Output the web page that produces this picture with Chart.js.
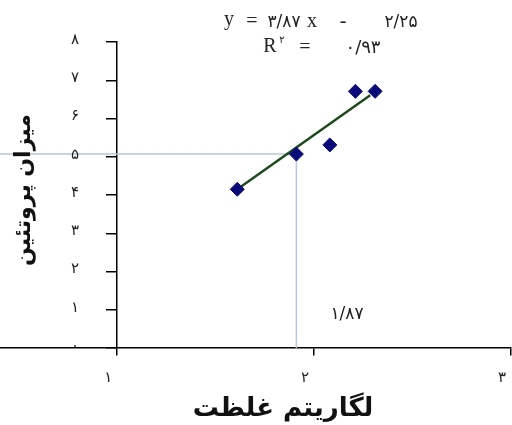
<!DOCTYPE html>
<html>
<head>
<meta charset="utf-8">
<script src="https://cdn.jsdelivr.net/npm/chart.js@4.4.1/dist/chart.umd.min.js"></script>
<style>
  html, body { margin:0; padding:0; background:#fff; }
  #wrap { width:512px; height:425px; }
</style>
</head>
<body>
<div id="wrap"><canvas id="c" width="512" height="425"></canvas></div>
<script>
// نقاط اندازه گیری (لگاریتم غلظت، میزان پروتئین)
const logConc = [1.61, 1.91, 2.08, 2.21, 2.31];
const protein = [4.15, 5.07, 5.31, 6.71, 6.71];

// خط روند
const trendX = [1.61, 2.285];
const trendY = [4.15, 6.61];

// خطوط راهنما (x = ۱/۸۷)
const guideX = [0.405, 1.91, 1.91];
const guideY = [5.07, 5.07, 0];

const xTicks = [1, 2, 3];
const yTicks = [0, 1, 2, 3, 4, 5, 6, 7, 8];
const faDigits = "۰۱۲۳۴۵۶۷۸۹";
const toFa = v => String(v).replace(/\d/g, d => faDigits[d]);

const zip = (xs, ys) => xs.map((x, i) => ({x: x, y: ys[i]}));

// متن ها: معادله، R2، عنوان محورها، برچسب های محورها
const textPlugin = {
    id: "texts",
    afterDraw(chart) {
        const ctx = chart.ctx;
        const xs = chart.scales.x, ys = chart.scales.y;
        ctx.save();
        ctx.fillStyle = "#222";
        ctx.textAlign = "center";
        ctx.textBaseline = "middle";

        // tick labels
        ctx.font = "15px 'DejaVu Sans'";
        yTicks.forEach(v => ctx.fillText(toFa(v), 75, ys.getPixelForValue(v) - 2));
        xTicks.forEach(v => ctx.fillText(toFa(v), Math.min(xs.getPixelForValue(v) - 9, 506), 378));

        // equation
        ctx.font = "20px 'Liberation Serif'";
        ctx.fillText("y", 229, 20);
        ctx.fillText("=", 252, 22);
        ctx.fillText("x", 312, 22);
        ctx.fillText("-", 343, 22);
        ctx.font = "17px 'DejaVu Sans'";
        ctx.letterSpacing = "2px";
        ctx.fillText("۳/۸۷", 284, 23);
        ctx.letterSpacing = "4px";
        ctx.fillText("۲/۲۵", 401, 23);

        // R2
        ctx.letterSpacing = "0px";
        ctx.font = "20px 'Liberation Serif'";
        ctx.fillText("R", 270, 47);
        ctx.fillText("=", 305, 48);
        ctx.font = "10px 'DejaVu Sans'";
        ctx.fillText("۲", 282, 40);
        ctx.font = "18px 'DejaVu Sans'";
        ctx.letterSpacing = "6px";
        ctx.fillText("۰/۹۳", 363, 48);

        ctx.letterSpacing = "4px";
        ctx.font = "17px 'DejaVu Sans'";
        ctx.fillText("۱/۸۷", 347, 315);

        // axis titles
        ctx.letterSpacing = "0px";
        ctx.font = "bold 26px 'DejaVu Sans'";
        ctx.fillStyle = "#111";
        ctx.fillText("لگاریتم غلظت", 283, 409);
        ctx.font = "bold 22px 'DejaVu Sans'";
        ctx.translate(24, 190);
        ctx.rotate(-Math.PI / 2);
        ctx.fillText("میزان پروتئین", 0, 0);
        ctx.restore();
    }
};

new Chart(document.getElementById("c"), {
    type: "scatter",
    data: {
        datasets: [
            {
                data: zip(guideX, guideY),
                showLine: true,
                borderColor: "#b7c8d8",
                borderWidth: 1.5,
                pointRadius: 0,
                order: 3
            },
            {
                data: zip(trendX, trendY),
                showLine: true,
                borderColor: "#1d4a1d",
                borderWidth: 2.5,
                pointRadius: 0,
                order: 2
            },
            {
                data: zip(logConc, protein),
                pointStyle: "rectRot",
                pointRadius: 7,
                backgroundColor: "#0a0a78",
                borderColor: "#0a0a78",
                order: 1
            }
        ]
    },
    options: {
        responsive: false,
        animation: false,
        layout: {autoPadding: false, padding: {left: 0, right: 1, top: 42, bottom: 77}},
        plugins: {legend: {display: false}, tooltip: {enabled: false}},
        scales: {
            x: {
                type: "linear",
                position: {y: 0},
                min: 0.405,
                max: 3,
                afterFit: s => { s.height = 0; s.paddingLeft = 0; s.paddingRight = 0; },
                afterBuildTicks: s => { s.ticks = xTicks.map(v => ({value: v})); },
                border: {color: "#000", width: 1.5},
                grid: {drawOnChartArea: false, color: "#000", tickLength: 7, lineWidth: 1.5},
                ticks: {display: false}
            },
            y: {
                type: "linear",
                position: {x: 1},
                min: 0,
                max: 8,
                afterFit: s => { s.width = 0; s.paddingTop = 0; s.paddingBottom = 0; },
                afterBuildTicks: s => { s.ticks = yTicks.map(v => ({value: v})); },
                border: {color: "#000", width: 1.5},
                grid: {drawOnChartArea: false, color: "#000", tickLength: 10, lineWidth: 1.5},
                ticks: {display: false}
            }
        }
    },
    plugins: [textPlugin]
});
</script>
</body>
</html>
